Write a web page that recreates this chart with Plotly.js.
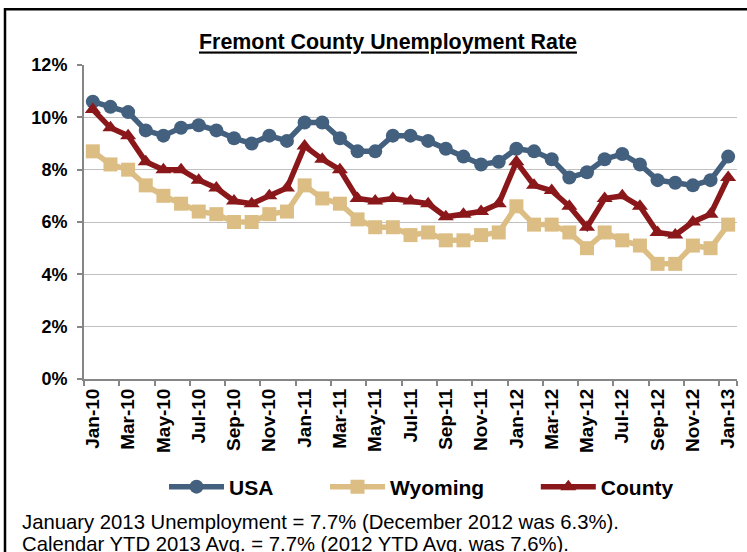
<!DOCTYPE html>
<html>
<head>
<meta charset="utf-8">
<script src="https://cdn.plot.ly/plotly-3.0.1.min.js"></script>
<style>html,body{margin:0;padding:0;background:#fff;}#chart{width:747px;height:552px;}</style>
</head>
<body>
<div id="chart"></div>
<script>
var months = ["Jan-10","Feb-10","Mar-10","Apr-10","May-10","Jun-10","Jul-10","Aug-10","Sep-10","Oct-10","Nov-10","Dec-10",
  "Jan-11","Feb-11","Mar-11","Apr-11","May-11","Jun-11","Jul-11","Aug-11","Sep-11","Oct-11","Nov-11","Dec-11",
  "Jan-12","Feb-12","Mar-12","Apr-12","May-12","Jun-12","Jul-12","Aug-12","Sep-12","Oct-12","Nov-12","Dec-12","Jan-13"];
var usa = [10.6,10.4,10.2,9.5,9.3,9.6,9.7,9.5,9.2,9.0,9.3,9.1,
  9.8,9.8,9.2,8.7,8.7,9.3,9.3,9.1,8.8,8.5,8.2,8.3,
  8.8,8.7,8.4,7.7,7.9,8.4,8.6,8.2,7.6,7.5,7.4,7.6,8.5];
var wyoming = [8.7,8.2,8.0,7.4,7.0,6.7,6.4,6.3,6.0,6.0,6.3,6.4,
  7.4,6.9,6.7,6.1,5.8,5.8,5.5,5.6,5.3,5.3,5.5,5.6,
  6.6,5.9,5.9,5.6,5.0,5.6,5.3,5.1,4.4,4.4,5.1,5.0,5.9];
var county = [10.3,9.6,9.3,8.3,8.0,8.0,7.6,7.3,6.8,6.7,7.0,7.3,
  8.9,8.4,8.0,6.9,6.8,6.9,6.8,6.7,6.2,6.3,6.4,6.7,
  8.3,7.4,7.2,6.6,5.8,6.9,7.0,6.6,5.6,5.5,6.0,6.3,7.7];
var seriesNames = ["USA","Wyoming","County"];
var yTickVals = [0,2,4,6,8,10,12];
var yTickText = ["0%","2%","4%","6%","8%","10%","12%"];
var titleText = "Fremont County Unemployment Rate";
var note1 = "January 2013 Unemployment = 7.7% (December 2012 was 6.3%).";
var note2 = "Calendar YTD 2013 Avg. = 7.7% (2012 YTD Avg. was 7.6%).";

var SANS = "'Liberation Sans', Arial, sans-serif";
var PAD = "\u00a0\u00a0\u00a0\u00a0\u00a0\u00a0\u00a0\u00a0";

function tr(name, y, color, symbol, pad) {
  return {
    x: months, y: y, name: name + pad, type: "scatter", mode: "lines+markers",
    line: {color: color, width: 5.5},
    marker: {color: color, symbol: symbol, size: 14, line: {width: 0}},
    hovertemplate: "%{x}: %{y}%<extra>" + name + "</extra>"
  };
}
var data = [
  tr(seriesNames[0], usa, "#44607f", "circle", PAD),
  tr(seriesNames[1], wyoming, "#dcbe84", "square", PAD),
  tr(seriesNames[2], county, "#8a171a", "triangle-up", "")
];

var L = 84, R = 737, T = 64.5, B = 379.5, W = 747, H = 552;
var pw = R - L, ph = B - T;
function px(x) { return (x - L) / pw; }
function py(y) { return (B - y) / ph; }

var layout = {
  width: W, height: H,
  margin: {l: L, r: W - R, t: T, b: H - B, pad: 0},
  paper_bgcolor: "#ffffff", plot_bgcolor: "#ffffff",
  showlegend: true,
  title: {
    text: "<b><u>" + titleText + "</u></b>",
    font: {family: SANS, size: 21.4, color: "#000"},
    x: 388 / W, xanchor: "center", y: 1 - 42 / H, yanchor: "middle"
  },
  xaxis: {
    type: "category", range: [-0.5, 36.5], fixedrange: true,
    tickmode: "array", tickvals: months.filter(function(m, i){return i % 2 === 0;}),
    tickson: "boundaries",
    tickangle: -90, ticks: "outside", ticklen: 5, tickwidth: 1.5, tickcolor: "#868686",
    showline: true, linecolor: "#868686", linewidth: 2,
    showgrid: false, zeroline: false,
    tickfont: {family: SANS, size: 19, color: "#000", weight: "bold"}
  },
  yaxis: {
    range: [0, 12], fixedrange: true,
    tickmode: "array", tickvals: yTickVals, ticktext: yTickText,
    ticks: "outside", ticklen: 5, tickwidth: 1.5, tickcolor: "#868686",
    showline: true, linecolor: "#868686", linewidth: 2,
    showgrid: true, gridcolor: "#c0c0c0", gridwidth: 1.2, zeroline: false,
    ticklabelstandoff: 6,
    tickfont: {family: SANS, size: 18, color: "#000", weight: "bold"}
  },
  legend: {
    orientation: "h", x: 164 / W, xref: "container", xanchor: "left",
    y: 1 - 487 / H, yref: "container", yanchor: "middle",
    font: {family: SANS, size: 21, color: "#000", weight: "bold"},
    itemwidth: 55, tracegroupgap: 0, bgcolor: "rgba(0,0,0,0)"
  },
  annotations: [
    {text: note1, xref: "paper", yref: "paper", x: px(20), y: py(523), xanchor: "left", yanchor: "middle",
     showarrow: false, font: {family: SANS, size: 20.3, color: "#000"}},
    {text: note2, xref: "paper", yref: "paper", x: px(20), y: py(545), xanchor: "left", yanchor: "middle",
     showarrow: false, font: {family: SANS, size: 20.3, color: "#000"}}
  ],
  shapes: [
    {type: "rect", xref: "paper", yref: "paper", x0: px(5), x1: px(760), y0: py(570), y1: py(8.5),
     line: {color: "#000", width: 2.5}, fillcolor: "rgba(0,0,0,0)", layer: "above"}
  ]
};

Plotly.newPlot("chart", data, layout, {displayModeBar: false});
</script>
</body>
</html>
